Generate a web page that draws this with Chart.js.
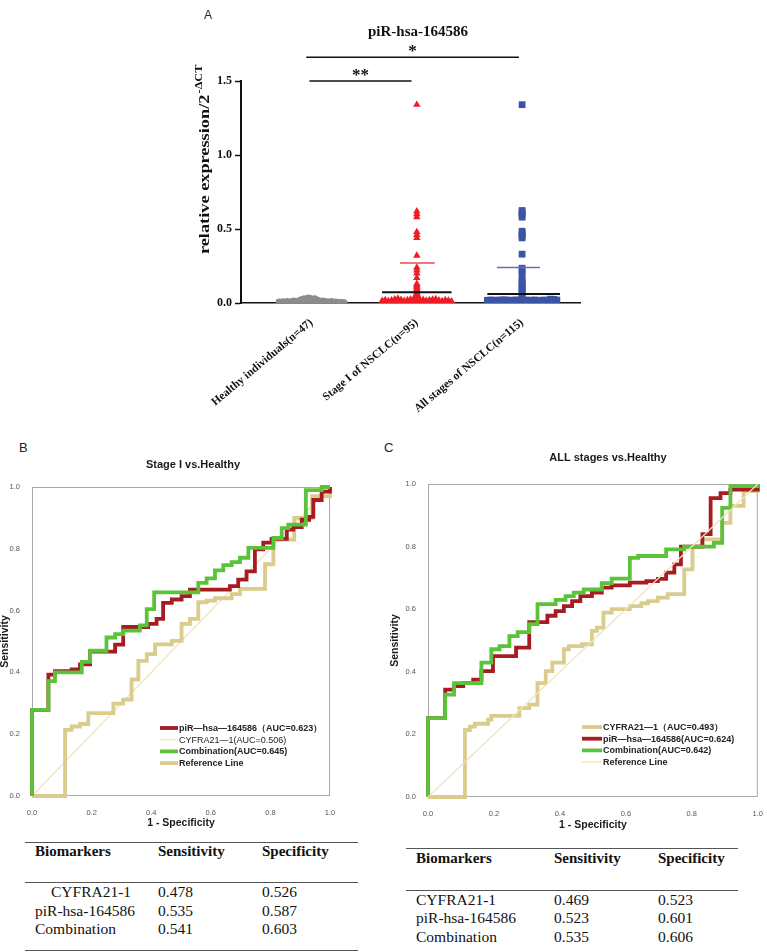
<!DOCTYPE html>
<html lang="en">
<head>
<meta charset="utf-8">
<title>piR-hsa-164586</title>
<script src="https://cdn.jsdelivr.net/npm/chart.js@4.4.1/dist/chart.umd.min.js"></script>
<style>
  html, body { margin: 0; padding: 0; background: #fff; }
  body { position: relative; width: 767px; height: 952px; overflow: hidden; font-family: "Liberation Sans", Arial, sans-serif; }
  canvas { position: absolute; }
  .tag { position: absolute; font-size: 13px; color: #222; line-height: 1; }
  .rule { position: absolute; height: 0; border-top: 1px solid #555; }
  .cell { position: absolute; font-family: "Liberation Serif", "Times New Roman", serif; font-size: 15.5px; line-height: 15.5px; color: #111; white-space: nowrap; }
  .cell.head { font-weight: bold; font-size: 15px; line-height: 15px; }
</style>
</head>
<body>
<div class="tag" style="left:204px; top:9px; font-size:12px;">A</div>
<div class="tag" style="left:19px; top:441px;">B</div>
<div class="tag" style="left:384px; top:441px;">C</div>
<canvas id="chartA" width="450" height="420" style="left:150px; top:0;"></canvas>
<canvas id="chartB" width="380" height="390" style="left:0; top:440px;"></canvas>
<canvas id="chartC" width="387" height="390" style="left:380px; top:440px;"></canvas>
<div id="tableB"></div>
<div id="tableC"></div>
<script>
// ---- panel A: relative expression per group ----
const titleA = "piR-hsa-164586";
const groupNames = ["Healthy individuals(n=47)", "Stage I of NSCLC(n=95)", "All stages of NSCLC(n=115)"];

const healthyX = [0.69,0.71,0.73,0.75,0.77,0.79,0.81,0.83,0.85,0.87,0.89,0.91,0.93,0.95,0.97,0.99,1.01,1.03,1.05,1.07,1.09,1.11,1.13,1.15,1.17,1.19,1.21,1.23,1.25,1.27,1.29,1.31,
                  0.72,0.78,0.84,0.9,0.96,1.02,1.08,1.14,1.2,1.26,1.3,0.98,1.0,0.94,1.04];
const healthyY = [0.008,0.006,0.01,0.004,0.012,0.007,0.01,0.015,0.012,0.008,0.02,0.026,0.03,0.028,0.036,0.032,0.026,0.03,0.022,0.018,0.012,0.015,0.008,0.01,0.006,0.012,0.005,0.008,0.004,0.006,0.005,0.003,
                  0.002,0.003,0.004,0.006,0.01,0.008,0.004,0.003,0.002,0.002,0.001,0.02,0.018,0.015,0.012];

const stageX = [1.67,1.70,1.73,1.76,1.79,1.82,1.85,1.88,1.91,1.94,1.97,2.00,2.03,2.06,2.09,2.12,2.15,2.18,2.21,2.24,2.27,2.30,2.33,
                1.68,1.72,1.76,1.80,1.84,1.88,1.92,1.96,2.04,2.08,2.12,2.16,2.20,2.24,2.28,2.32,
                2,2,2,2,2,2,2,2,2,2,2,2,2,2,2,2,2,2,2,2,2,2,2,2];
const stageY = [0.015,0.02,0.014,0.018,0.025,0.03,0.022,0.015,0.02,0.025,0.028,0.016,0.025,0.022,0.016,0.02,0.024,0.026,0.018,0.014,0.02,0.016,0.012,
                0.004,0.003,0.005,0.002,0.004,0.006,0.003,0.005,0.004,0.002,0.005,0.003,0.004,0.006,0.003,0.002,
                0.010,0.015,0.040,0.050,0.060,0.070,0.080,0.090,0.100,0.110,0.120,0.130,0.170,0.200,0.220,0.240,0.320,0.440,0.460,0.480,0.580,0.600,0.620,1.340];

const allX = [2.67,2.70,2.73,2.76,2.79,2.82,2.85,2.88,2.91,2.94,2.97,3.00,3.03,3.06,3.09,3.12,3.15,3.18,3.21,3.24,3.27,3.30,3.33,
              2.68,2.72,2.76,2.80,2.84,2.88,2.92,2.96,3.04,3.08,3.12,3.16,3.20,3.24,3.28,3.32,
              3,3,3,3,3,3,3,3,3,3,3,3,3,3,3,3,3,3,3,3,3];
const allY = [0.018,0.02,0.019,0.018,0.02,0.021,0.02,0.018,0.019,0.02,0.02,0.018,0.02,0.018,0.019,0.02,0.018,0.018,0.02,0.018,0.026,0.024,0.02,
              0.006,0.007,0.005,0.006,0.006,0.007,0.005,0.006,0.006,0.007,0.005,0.006,0.006,0.007,0.006,0.005,
              0.050,0.065,0.080,0.095,0.110,0.125,0.140,0.155,0.190,0.210,0.235,0.330,0.440,0.455,0.470,0.485,0.580,0.595,0.610,0.625,1.340];

// mean and SD bars (stage I, all stages)
const meanFrom = [1.67, 2.67], meanTo = [2.33, 3.36], meanVal = [0.073, 0.06];
const sdFrom = [1.84, 2.76], sdTo = [2.17, 3.17], sdVal = [0.27, 0.24];
const sdColors = ["#f0464d", "#5b72c0"];
// significance brackets
const sigFrom = [0.98, 0.95], sigTo = [1.95, 2.97], sigLevel = [1.5, 1.66], sigMarks = ["**", "*"];

// ---- panels B/C: ROC coordinates (1 - specificity, sensitivity) ----
const bPirX = [0,0,0.055,0.077,0.133,0.161,0.195,0.279,0.306,0.39,0.418,0.44,0.469,0.502,0.53,0.664,0.692,0.72,0.748,0.776,0.804,0.855,0.877,0.905,0.93,0.944,0.972,1];
const bPirY = [0,0.279,0.393,0.404,0.41,0.426,0.467,0.49,0.547,0.557,0.573,0.625,0.636,0.647,0.668,0.679,0.70,0.727,0.798,0.82,0.832,0.862,0.87,0.894,0.903,0.958,0.985,1];
const bCyfX = [0,0.111,0.133,0.161,0.189,0.273,0.306,0.334,0.357,0.385,0.413,0.469,0.502,0.53,0.558,0.586,0.614,0.67,0.698,0.782,0.81,0.88,0.94,1];
const bCyfY = [0,0.214,0.225,0.233,0.268,0.299,0.312,0.377,0.437,0.459,0.491,0.502,0.557,0.573,0.627,0.632,0.64,0.653,0.67,0.75,0.83,0.9,0.97,1];
const bCombX = [0,0,0.055,0.077,0.167,0.195,0.25,0.279,0.306,0.362,0.385,0.41,0.558,0.586,0.614,0.642,0.67,0.698,0.726,0.81,0.838,0.86,0.919,0.972,1];
const bCombY = [0,0.279,0.372,0.40,0.434,0.47,0.513,0.524,0.535,0.552,0.605,0.659,0.69,0.704,0.73,0.747,0.757,0.771,0.803,0.835,0.867,0.878,0.99,1,1];

const cPirX = [0,0,0.052,0.079,0.107,0.137,0.162,0.197,0.267,0.307,0.362,0.387,0.412,0.437,0.462,0.497,0.527,0.557,0.612,0.662,0.697,0.722,0.747,0.767,0.832,0.857,0.887,0.917,1];
const cPirY = [0,0.252,0.343,0.354,0.364,0.375,0.402,0.45,0.477,0.559,0.579,0.594,0.61,0.626,0.642,0.653,0.669,0.676,0.685,0.69,0.697,0.717,0.743,0.80,0.84,0.955,0.971,0.982,1];
const cCyfX = [0,0.112,0.127,0.142,0.182,0.192,0.277,0.307,0.332,0.357,0.377,0.412,0.427,0.467,0.497,0.512,0.532,0.557,0.612,0.647,0.667,0.697,0.727,0.777,0.802,0.832,0.892,0.917,0.957,1];
const cCyfY = [0,0.214,0.225,0.234,0.247,0.259,0.284,0.295,0.364,0.402,0.429,0.472,0.482,0.488,0.531,0.541,0.589,0.60,0.61,0.619,0.626,0.637,0.648,0.727,0.80,0.823,0.876,0.93,0.977,1];
const cCombX = [0,0,0.052,0.079,0.162,0.192,0.217,0.247,0.272,0.307,0.332,0.387,0.417,0.442,0.472,0.527,0.557,0.612,0.637,0.722,0.777,0.867,0.892,0.917,1];
const cCombY = [0,0.252,0.327,0.364,0.429,0.472,0.482,0.514,0.527,0.552,0.616,0.63,0.642,0.653,0.663,0.683,0.698,0.764,0.77,0.791,0.8,0.812,0.924,0.993,1];
const refX = [0, 1], refY = [0, 1];

const legendBText = ["piR\u2014hsa\u2014164586\uff08AUC=0.623\uff09", "CYFRA21\u20141(AUC=0.506)", "Combination(AUC=0.645)", "Reference Line"];
const legendBKeys = ["pir", "ref", "comb", "cyf"];
const legendBWeight = ["bold", "normal", "bold", "bold"];
const legendCText = ["CYFRA21\u20141\uff08AUC=0.493\uff09", "piR\u2014hsa\u2014164586(AUC=0.624)", "Combination(AUC=0.642)", "Reference Line"];
const legendCKeys = ["cyf", "pir", "comb", "ref"];
const legendCWeight = ["bold", "bold", "bold", "bold"];

// ---- tables ----
const tableHead = ["Biomarkers", "Sensitivity", "Specificity"];
const tableBRows = [["CYFRA21-1", "0.478", "0.526"], ["piR-hsa-164586", "0.535", "0.587"], ["Combination", "0.541", "0.603"]];
const tableCRows = [["CYFRA21-1", "0.469", "0.523"], ["piR-hsa-164586", "0.523", "0.601"], ["Combination", "0.535", "0.606"]];

const SERIF = '"Liberation Serif", "Times New Roman", serif';
const SANS = '"Liberation Sans", Arial, sans-serif';
const RED = "#a61c22", GREEN = "#5cc23a", KHAKI = "#d9cc8c", REF = "#efe4bb";

const pts = (xs, ys) => xs.map((x, i) => ({ x, y: ys[i] }));
const hLine = (from, to, val) => [{ x: from, y: val }, { x: to, y: val }];

// ================= panel A =================
const panelADecor = {
  id: "panelADecor",
  afterDatasetsDraw(chart) {
    const { ctx, chartArea: a, scales: { x, y } } = chart;
    ctx.save();
    ctx.fillStyle = "#111";
    ctx.textAlign = "center";
    ctx.textBaseline = "alphabetic";
    ctx.font = "bold 17px " + SERIF;
    sigMarks.forEach((m, i) => {
      ctx.fillText(m, x.getPixelForValue((sigFrom[i] + sigTo[i]) / 2), y.getPixelForValue(sigLevel[i]) - 1);
    });
    ctx.textBaseline = "middle";
    ctx.font = "bold 15px " + SERIF;
    ctx.fillText(titleA, a.left + 177, a.top - 49);

    // y axis title with superscript
    ctx.translate(a.left - 36, a.top + 79);
    ctx.rotate(-Math.PI / 2);
    ctx.scale(1.22, 1);
    const main = "relative expression/2", sup = "-\u0394CT";
    ctx.font = "bold 15px " + SERIF;
    const w1 = ctx.measureText(main).width;
    ctx.font = "bold 10px " + SERIF;
    const w2 = ctx.measureText(sup).width;
    const sx = -(w1 + w2) / 2;
    ctx.textAlign = "left";
    ctx.textBaseline = "alphabetic";
    ctx.font = "bold 15px " + SERIF;
    ctx.fillText(main, sx, 4);
    ctx.font = "bold 10px " + SERIF;
    ctx.fillText(sup, sx + w1 + 1, -3);
    ctx.restore();
  }
};

const bottomClip = { left: 10, right: 10, top: 10, bottom: 0 };
const datasetsA = [
  { data: pts(healthyX, healthyY), pointStyle: "circle", pointRadius: 3.2, backgroundColor: "#8c8c8c", borderWidth: 0, order: 2, clip: bottomClip },
  { data: pts(stageX, stageY), pointStyle: "triangle", pointRadius: 4.3, backgroundColor: "#ee1c25", borderWidth: 0, order: 2, clip: bottomClip },
  { data: pts(allX, allY), pointStyle: "rect", pointRadius: 4.8, backgroundColor: "#3b54a5", borderWidth: 0, order: 2, clip: bottomClip }
];
meanFrom.forEach((f, i) => datasetsA.push({
  data: hLine(f, meanTo[i], meanVal[i]), showLine: true, borderColor: "#111", borderWidth: 2, pointRadius: 0, order: 0
}));
sdFrom.forEach((f, i) => datasetsA.push({
  data: hLine(f, sdTo[i], sdVal[i]), showLine: true, borderColor: sdColors[i], borderWidth: 1.5, pointRadius: 0, order: 1
}));
sigFrom.forEach((f, i) => datasetsA.push({
  data: hLine(f, sigTo[i], sigLevel[i]), showLine: true, borderColor: "#111", borderWidth: 1.5, pointRadius: 0, order: 0, clip: false
}));

new Chart(document.getElementById("chartA"), {
  type: "scatter",
  data: { datasets: datasetsA },
  options: {
    responsive: false,
    animation: false,
    events: [],
    layout: { padding: { top: 81, right: 20, left: 0, bottom: 0 } },
    scales: {
      x: {
        type: "linear", min: 0.33, max: 3.55,
        afterBuildTicks: (s) => { s.ticks = [1, 2, 3].map(v => ({ value: v })); },
        afterFit: (s) => { s.height = 117; },
        grid: { display: false },
        border: { color: "#111", width: 1.5 },
        ticks: {
          autoSkip: false, minRotation: 40, maxRotation: 40, padding: 5, color: "#111",
          font: { family: SERIF, size: 11.5, weight: "bold" },
          callback: (v) => groupNames[v - 1]
        }
      },
      y: {
        min: 0, max: 1.5,
        afterFit: (s) => { s.width = 91; },
        grid: { drawOnChartArea: false, drawTicks: true, tickLength: 6, tickColor: "#111", tickWidth: 1.5 },
        border: { color: "#111", width: 2 },
        ticks: {
          stepSize: 0.5, padding: 3, color: "#111",
          font: { family: SERIF, size: 12, weight: "bold" },
          callback: (v) => v.toFixed(1)
        }
      }
    },
    plugins: { legend: { display: false }, tooltip: { enabled: false } }
  },
  plugins: [panelADecor]
});

// ================= panels B, C =================
function rocDecor(o, byKey) {
  return {
    id: "rocDecor",
    beforeDatasetsDraw(chart) {
      const { ctx, chartArea: a } = chart;
      ctx.save();
      ctx.strokeStyle = "#a9a9a9";
      ctx.lineWidth = 1;
      ctx.strokeRect(a.left + 0.5, a.top + 0.5, a.right - a.left - 1, a.bottom - a.top - 1);
      ctx.restore();
    },
    afterDatasetsDraw(chart) {
      const { ctx, chartArea: a } = chart;
      ctx.save();
      // legend, styled as in the figure
      o.legendText.forEach((t, i) => {
        const s = byKey[o.legendKeys[i]];
        const y = a.top + o.legendTop + i * 11.7;
        const x0 = a.left + o.legendLeft;
        ctx.strokeStyle = s.color;
        ctx.lineWidth = s.width;
        ctx.beginPath();
        ctx.moveTo(x0, y);
        ctx.lineTo(x0 + o.legendLine, y);
        ctx.stroke();
        ctx.fillStyle = "#222";
        ctx.font = o.legendWeight[i] + " 9px " + SANS;
        ctx.textAlign = "left";
        ctx.textBaseline = "middle";
        ctx.fillText(t, x0 + o.legendLine + 1, y + 0.5);
      });
      // titles
      ctx.fillStyle = "#1a1a1a";
      ctx.textAlign = "center";
      ctx.textBaseline = "middle";
      ctx.font = "bold 11px " + SANS;
      ctx.fillText(o.title, a.left + o.titleDx, a.top + o.titleDy);
      ctx.font = "bold 10.5px " + SANS;
      ctx.fillText("1 - Specificity", (a.left + a.right) / 2, a.bottom + o.xTitleDy);
      ctx.translate(a.left - o.yTitleDx, (a.top + a.bottom) / 2);
      ctx.rotate(-Math.PI / 2);
      ctx.fillText("Sensitivity", 0, 0);
      ctx.restore();
    }
  };
}

function makeRoc(id, o) {
  const byKey = {};
  o.series.forEach(s => { byKey[s.key] = s; });
  const tickFont = { family: SANS, size: 7.5 };
  return new Chart(document.getElementById(id), {
    type: "scatter",
    data: {
      datasets: o.series.map(s => ({
        label: s.key,
        data: pts(s.x, s.y),
        showLine: true,
        stepped: s.stepped ? "before" : false,
        borderColor: s.color,
        borderWidth: s.width,
        pointRadius: 0,
        order: s.order,
        clip: 3
      }))
    },
    options: {
      responsive: false,
      animation: false,
      events: [],
      layout: { padding: { top: o.padTop, right: o.padRight, left: 0, bottom: 0 } },
      scales: {
        x: {
          type: "linear", min: 0, max: 1,
          afterFit: (s) => { s.height = o.xHeight; },
          grid: { display: false }, border: { display: false },
          ticks: { stepSize: 0.2, padding: 4, color: "#555", font: tickFont, callback: (v) => v.toFixed(1) }
        },
        y: {
          min: 0, max: 1,
          afterFit: (s) => { s.width = o.yWidth; },
          grid: { display: false }, border: { display: false },
          ticks: { stepSize: 0.2, padding: 4, color: "#555", font: tickFont, callback: (v) => v.toFixed(1) }
        }
      },
      plugins: { legend: { display: false }, tooltip: { enabled: false } }
    },
    plugins: [rocDecor(o, byKey)]
  });
}

makeRoc("chartB", {
  title: "Stage I vs.Healthy", titleDx: 161, titleDy: -22,
  padTop: 47, padRight: 50, xHeight: 34, yWidth: 32, xTitleDy: 27, yTitleDx: 27,
  legendText: legendBText, legendKeys: legendBKeys, legendWeight: legendBWeight,
  legendLeft: 128, legendTop: 241, legendLine: 18,
  series: [
    { key: "comb", x: bCombX, y: bCombY, color: GREEN, width: 3.8, order: 0, stepped: true },
    { key: "pir", x: bPirX, y: bPirY, color: RED, width: 3.8, order: 1, stepped: true },
    { key: "cyf", x: bCyfX, y: bCyfY, color: KHAKI, width: 3.8, order: 2, stepped: true },
    { key: "ref", x: refX, y: refY, color: REF, width: 1.2, order: 3, stepped: false }
  ]
});

makeRoc("chartC", {
  title: "ALL stages vs.Healthy", titleDx: 180, titleDy: -26,
  padTop: 44, padRight: 6, xHeight: 33, yWidth: 48, xTitleDy: 28, yTitleDx: 33,
  legendText: legendCText, legendKeys: legendCKeys, legendWeight: legendCWeight,
  legendLeft: 154, legendTop: 243, legendLine: 20,
  series: [
    { key: "ref", x: refX, y: refY, color: REF, width: 1.2, order: 0, stepped: false },
    { key: "comb", x: cCombX, y: cCombY, color: GREEN, width: 3.8, order: 1, stepped: true },
    { key: "pir", x: cPirX, y: cPirY, color: RED, width: 3.8, order: 2, stepped: true },
    { key: "cyf", x: cCyfX, y: cCyfY, color: KHAKI, width: 3.8, order: 3, stepped: true }
  ]
});

// ================= tables =================
function buildTable(holderId, rows, t) {
  const holder = document.getElementById(holderId);
  t.rules.forEach(y => {
    const r = document.createElement("div");
    r.className = "rule";
    r.style.left = t.x0 + "px";
    r.style.width = (t.x1 - t.x0) + "px";
    r.style.top = y + "px";
    holder.appendChild(r);
  });
  const add = (cls, text, left, top) => {
    const d = document.createElement("div");
    d.className = cls;
    d.textContent = text;
    d.style.left = left + "px";
    d.style.top = top + "px";
    holder.appendChild(d);
  };
  tableHead.forEach((h, c) => add("cell head", h, t.cols[c], t.headTop));
  rows.forEach((row, r) => row.forEach((v, c) => add("cell", v, t.cols[c] + (c === 0 ? t.indent[r] : 0), t.rowTops[r])));
}

buildTable("tableB", tableBRows, {
  x0: 25, x1: 358, rules: [842, 882, 950],
  cols: [35, 158, 262], indent: [16, 0, 0],
  headTop: 844, rowTops: [884, 903, 921]
});
buildTable("tableC", tableCRows, {
  x0: 406, x1: 738, rules: [848, 890, 952],
  cols: [416, 554, 658], indent: [0, 0, 0],
  headTop: 851, rowTops: [892, 910, 929]
});
</script>
</body>
</html>
